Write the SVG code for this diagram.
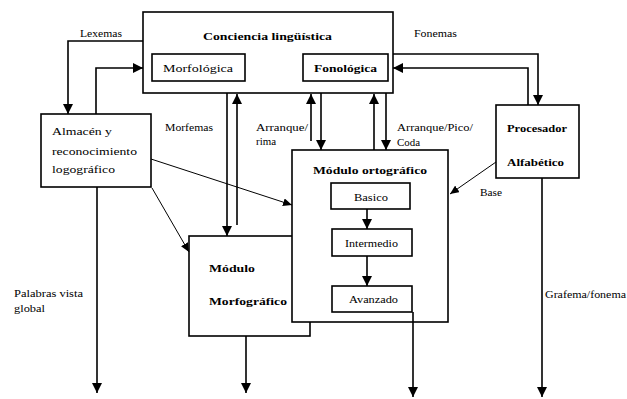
<svg xmlns="http://www.w3.org/2000/svg" width="627" height="399" viewBox="0 0 627 399">
<style>
.box{fill:#fff;stroke:#000;stroke-width:1.6}
text{font-family:'Liberation Serif','DejaVu Serif',serif;font-size:11px;fill:#000}
.b{font-weight:bold}
.c{fill:none;stroke:#000;stroke-width:1.6}
.thin{fill:none;stroke:#000;stroke-width:1}
</style>
<defs>
<marker id="ah" markerUnits="userSpaceOnUse" markerWidth="10" markerHeight="10" refX="10" refY="5" orient="auto" viewBox="0 0 10 10">
<path d="M0,0 L10,5 L0,10 z" fill="#000"/>
</marker>
<marker id="ahs" markerUnits="userSpaceOnUse" markerWidth="9" markerHeight="8" refX="9" refY="4" orient="auto" viewBox="0 0 9 8">
<path d="M0,0 L9,4 L0,8 z" fill="#000"/>
</marker>
</defs>
<rect width="627" height="399" fill="#fff"/>
<g id="conciencia">
<rect class="box" x="143" y="12" width="250" height="81"/>
<text class="b" x="203" y="40" textLength="129" lengthAdjust="spacingAndGlyphs">Conciencia lingüística</text>
</g>
<g id="morfologica">
<rect class="box" x="152" y="54" width="93" height="27"/>
<text x="163" y="72" textLength="70" lengthAdjust="spacingAndGlyphs">Morfológica</text>
</g>
<g id="fonologica">
<rect class="box" x="303" y="54" width="85" height="27"/>
<text class="b" x="314" y="72" textLength="63" lengthAdjust="spacingAndGlyphs">Fonológica</text>
</g>
<g id="almacen">
<rect class="box" x="41" y="114" width="110" height="73"/>
<text x="52" y="135" textLength="60" lengthAdjust="spacingAndGlyphs">Almacén y</text>
<text x="52" y="155" textLength="85" lengthAdjust="spacingAndGlyphs">reconocimiento</text>
<text x="52" y="173" textLength="63" lengthAdjust="spacingAndGlyphs">logográfico</text>
</g>
<g id="procesador">
<rect class="box" x="496" y="105" width="83" height="73"/>
<text class="b" x="507" y="132" textLength="60" lengthAdjust="spacingAndGlyphs">Procesador</text>
<text class="b" x="507" y="166" textLength="57" lengthAdjust="spacingAndGlyphs">Alfabético</text>
</g>
<g id="morfografico">
<rect class="box" x="189" y="236" width="121" height="100"/>
<text class="b" x="209" y="272" textLength="46" lengthAdjust="spacingAndGlyphs">Módulo</text>
<text class="b" x="209" y="305" textLength="78" lengthAdjust="spacingAndGlyphs">Morfográfico</text>
</g>
<g id="ortografico">
<rect class="box" x="292" y="150" width="156" height="172"/>
<text class="b" x="313" y="174" textLength="114" lengthAdjust="spacingAndGlyphs">Módulo ortográfico</text>
</g>
<g id="basico">
<rect class="box" x="331" y="183" width="79" height="26"/>
<text x="354" y="201" textLength="34" lengthAdjust="spacingAndGlyphs">Basico</text>
</g>
<g id="intermedio">
<rect class="box" x="332" y="229" width="80" height="27"/>
<text x="345" y="247" textLength="53" lengthAdjust="spacingAndGlyphs">Intermedio</text>
</g>
<g id="avanzado">
<rect class="box" x="332" y="286" width="80" height="26"/>
<text x="349" y="303" textLength="49" lengthAdjust="spacingAndGlyphs">Avanzado</text>
</g>
<g id="connectors">
<polyline class="c" points="143,41 68,41 68,114" marker-end="url(#ah)"/>
<polyline class="c" points="96,114 96,68 143,68" marker-end="url(#ah)"/>
<polyline class="c" points="393,54 538,54 538,105" marker-end="url(#ah)"/>
<polyline class="c" points="528,105 528,68 393,68" marker-end="url(#ah)"/>
<line class="c" x1="227" y1="93" x2="227" y2="236" marker-end="url(#ah)"/>
<line class="c" x1="237" y1="225" x2="237" y2="94" marker-end="url(#ah)"/>
<line class="c" x1="311" y1="141" x2="311" y2="94" marker-end="url(#ah)"/>
<line class="c" x1="321" y1="93" x2="321" y2="150" marker-end="url(#ah)"/>
<line class="c" x1="374" y1="150" x2="374" y2="94" marker-end="url(#ah)"/>
<line class="c" x1="386" y1="93" x2="386" y2="150" marker-end="url(#ah)"/>
<line class="thin" x1="496" y1="162" x2="450" y2="194" marker-end="url(#ahs)"/>
<line class="thin" x1="151" y1="159" x2="292" y2="205" marker-end="url(#ahs)"/>
<line class="thin" x1="152" y1="188" x2="189" y2="252" marker-end="url(#ahs)"/>
<line class="c" x1="367" y1="209" x2="367" y2="229" marker-end="url(#ah)"/>
<line class="c" x1="367" y1="256" x2="367" y2="286" marker-end="url(#ah)"/>
<line class="c" x1="413" y1="312" x2="413" y2="397" marker-end="url(#ah)"/>
<line class="c" x1="542" y1="178" x2="542" y2="397" marker-end="url(#ah)"/>
<line class="c" x1="97" y1="187" x2="97" y2="393" marker-end="url(#ah)"/>
<line class="c" x1="246" y1="336" x2="246" y2="393" marker-end="url(#ah)"/>
</g>
<g id="labels">
<text x="80" y="37" textLength="42" lengthAdjust="spacingAndGlyphs">Lexemas</text>
<text x="414" y="37" textLength="43" lengthAdjust="spacingAndGlyphs">Fonemas</text>
<text x="165" y="131" textLength="48" lengthAdjust="spacingAndGlyphs">Morfemas</text>
<text x="256" y="131" textLength="52" lengthAdjust="spacingAndGlyphs">Arranque/</text>
<text x="256" y="145" textLength="20" lengthAdjust="spacingAndGlyphs">rima</text>
<text x="397" y="131" textLength="76" lengthAdjust="spacingAndGlyphs">Arranque/Pico/</text>
<text x="397" y="146" textLength="23" lengthAdjust="spacingAndGlyphs">Coda</text>
<text x="480" y="196" textLength="22" lengthAdjust="spacingAndGlyphs">Base</text>
<text x="14" y="297" textLength="69" lengthAdjust="spacingAndGlyphs">Palabras vista</text>
<text x="14" y="312" textLength="31" lengthAdjust="spacingAndGlyphs">global</text>
<text x="545" y="298" textLength="81" lengthAdjust="spacingAndGlyphs">Grafema/fonema</text>
</g>
</svg>
